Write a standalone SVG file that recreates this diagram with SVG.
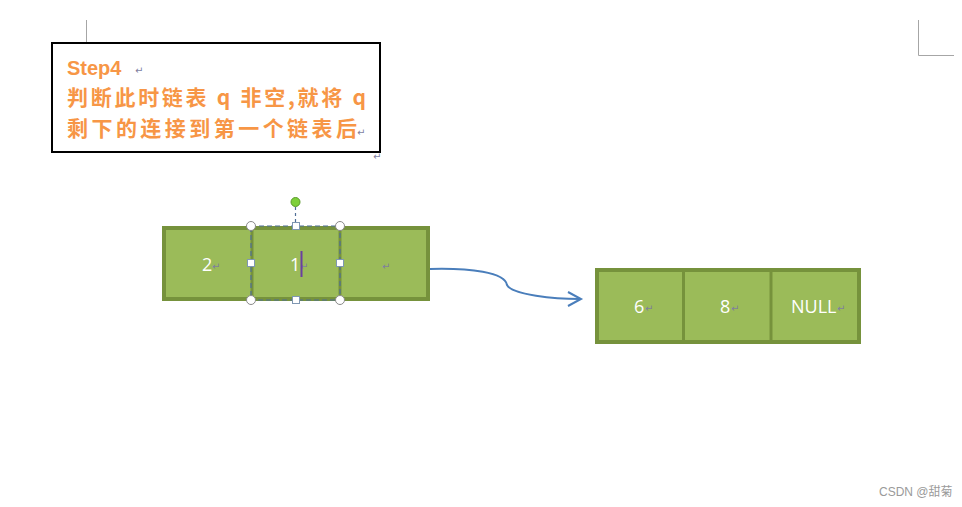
<svg xmlns="http://www.w3.org/2000/svg" width="962" height="507" viewBox="0 0 962 507">
<style>
.title{font-family:"Noto Sans CJK SC","Liberation Sans",sans-serif;font-weight:bold;fill:#F79646;}
.cell{fill:#9BBB59;}
.frame{fill:none;stroke:#76923C;stroke-width:4;}
.div{stroke:#76923C;stroke-width:3;}
.val{font-family:"Open Sans","Liberation Sans",sans-serif;font-size:18px;fill:#FFFFFF;}
.pm{font-family:"DejaVu Sans",sans-serif;font-size:10px;fill:#7F7F9F;}
.hc{fill:#FFFFFF;stroke:#8A8A8A;stroke-width:1;}
.hs{fill:#FFFFFF;stroke:#7F97B2;stroke-width:1;}
.mark{stroke:#A6A6A6;stroke-width:1;fill:none;}
</style>
<rect width="962" height="507" fill="#FFFFFF"/>
<g id="page-marks">
<path class="mark" d="M86.5,20 V42"/>
<path class="mark" d="M918.5,20 V55.5 H954"/>
</g>
<g id="textbox">
<rect x="52" y="43" width="328" height="109" fill="#FFFFFF" stroke="#000000" stroke-width="2"/>
<text x="67" y="75" font-family="Liberation Sans,Arial,sans-serif" font-weight="bold" font-size="20" fill="#F79646">Step4</text>
<text class="pm" x="135" y="74">↵</text>
<text class="title" x="67" y="105" font-size="21" textLength="299" lengthAdjust="spacing">判断此时链表 q 非空,就将 q</text>
<text class="title" x="67" y="136" font-size="21" textLength="290" lengthAdjust="spacing">剩下的连接到第一个链表后</text>
<text class="pm" x="357" y="136">↵</text>
<text class="pm" x="373" y="160">↵</text>
</g>
<g id="list-q">
<rect class="cell" x="164" y="228" width="264" height="71"/>
<line class="div" x1="252" y1="228" x2="252" y2="299"/>
<line class="div" x1="340" y1="228" x2="340" y2="299"/>
<rect class="frame" x="164" y="228" width="264" height="71"/>
<text class="val" x="202" y="271">2</text>
<text class="pm" x="212" y="270">↵</text>
<text class="val" x="290" y="271">1</text>
<text class="pm" x="300" y="270">↵</text>
<text class="pm" x="382" y="270">↵</text>
</g>
<g id="selection">
<rect x="251" y="226" width="89" height="74" fill="none" stroke="#4F6E96" stroke-width="1.2" stroke-dasharray="5,3"/>
<line x1="295.5" y1="207" x2="295.5" y2="226" stroke="#4F6E96" stroke-width="1.2" stroke-dasharray="3,3"/>
<circle cx="295.5" cy="202" r="4.5" fill="#7ED03A" stroke="#5A9A2A" stroke-width="1"/>
<circle class="hc" cx="251" cy="226" r="4.5"/>
<circle class="hc" cx="340" cy="226" r="4.5"/>
<circle class="hc" cx="251" cy="300" r="4.5"/>
<circle class="hc" cx="340" cy="300" r="4.5"/>
<rect class="hs" x="292.5" y="222.5" width="7" height="7"/>
<rect class="hs" x="292.5" y="296.5" width="7" height="7"/>
<rect class="hs" x="247.5" y="259.5" width="7" height="7"/>
<rect class="hs" x="336.5" y="259.5" width="7" height="7"/>
<line x1="301.5" y1="251" x2="301.5" y2="277" stroke="#6A3FA0" stroke-width="2"/>
</g>
<g id="list-p">
<rect class="cell" x="597" y="270" width="262" height="72"/>
<line class="div" x1="683.5" y1="270" x2="683.5" y2="342"/>
<line class="div" x1="771" y1="270" x2="771" y2="342"/>
<rect class="frame" x="597" y="270" width="262" height="72"/>
<text class="val" x="634" y="313">6</text>
<text class="pm" x="645" y="312">↵</text>
<text class="val" x="720" y="313">8</text>
<text class="pm" x="731" y="312">↵</text>
<text class="val" x="791" y="313">NULL</text>
<text class="pm" x="837" y="312">↵</text>
</g>
<g id="connectors">
<path d="M430,269 C470,268 505,272 507,285 C512,295 555,299 580,299" fill="none" stroke="#4A7EBB" stroke-width="2"/>
<path d="M568,292 L581,299 L568,306" fill="none" stroke="#4A7EBB" stroke-width="2"/>
</g>
<text x="879" y="496" font-family="Liberation Sans,Noto Sans CJK SC,sans-serif" font-size="12" fill="#9A9A9A">CSDN @甜菊</text>
</svg>
